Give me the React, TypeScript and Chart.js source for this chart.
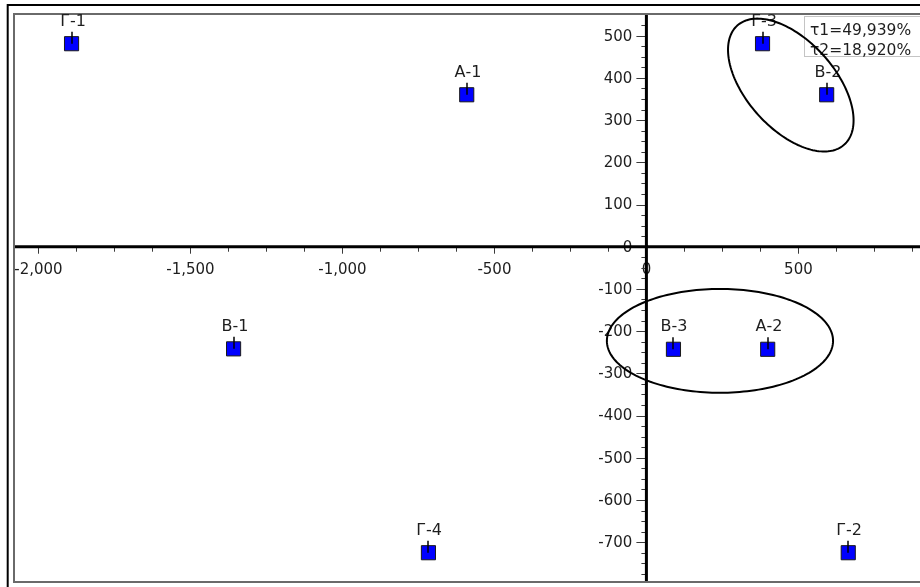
import React, { useEffect, useRef } from "react";
import { Chart, registerables } from "chart.js";

Chart.register(...registerables);

// ---- data ----
const pointLabels = ["Г-1", "А-1", "Г-3", "В-2", "В-1", "В-3", "А-2", "Г-4", "Г-2"];
const xValues = [-1891, -591, 382, 593, -1358, 89, 399, -717, 664];
const yValues = [481, 360, 481, 360, -242, -243, -243, -725, -725];

const xTickValues = [-2000, -1500, -1000, -500, 0, 500];
const xTickLabels = ["-2,000", "-1,500", "-1,000", "-500", "0", "500"];
const yTickValues = [500, 400, 300, 200, 100, 0, -100, -200, -300, -400, -500, -600, -700];
const yTickLabels = ["500", "400", "300", "200", "100", "0", "-100", "-200", "-300", "-400", "-500", "-600", "-700"];
const xMinorStep = 125;
const yMinorStep = 25;
const xRange = [-2077, 900];
const yRange = [-792, 549];

const legendLines = ["τ1=49,939%", "τ2=18,920%"];

// ellipses in data units: centre and two semi-axis vectors
const ellipseCentersX = [475, 242];
const ellipseCentersY = [383, -223];
const ellipseAxisU = [[176, -141], [372, 0]];
const ellipseAxisV = [[-108, -70], [0, 123]];

const FONT = "'DejaVu Sans', 'Liberation Sans', Arial, sans-serif";
const TEXT = "#1e1e1e";

const decorPlugin = {
  id: "decor",
  beforeDraw(chart: any) {
    const ctx = chart.ctx as CanvasRenderingContext2D;
    const W = chart.width;
    const H = chart.height;
    const ca = chart.chartArea;
    ctx.save();
    ctx.fillStyle = "#ffffff";
    ctx.fillRect(0, 0, W, H);
    // outer black frame (left + top)
    ctx.strokeStyle = "#000";
    ctx.lineWidth = 2;
    ctx.beginPath();
    ctx.moveTo(W, 5);
    ctx.lineTo(7.7, 5);
    ctx.lineTo(7.7, H);
    ctx.stroke();
    // inner grey frame
    ctx.strokeStyle = "#6a6a6a";
    ctx.lineWidth = 2;
    ctx.beginPath();
    ctx.moveTo(W, ca.top - 1);
    ctx.lineTo(ca.left - 1, ca.top - 1);
    ctx.lineTo(ca.left - 1, ca.bottom + 1);
    ctx.lineTo(W, ca.bottom + 1);
    ctx.stroke();
    ctx.restore();
  },
  beforeDatasetsDraw(chart: any) {
    const ctx = chart.ctx as CanvasRenderingContext2D;
    const xs = chart.scales.x;
    const ys = chart.scales.y;
    const ca = chart.chartArea;
    const x0 = xs.getPixelForValue(0);
    const y0 = ys.getPixelForValue(0);
    ctx.save();
    // tick labels
    ctx.fillStyle = TEXT;
    ctx.font = `15px ${FONT}`;
    ctx.textAlign = "center";
    ctx.textBaseline = "alphabetic";
    xTickValues.forEach((v, i) => {
      ctx.fillText(xTickLabels[i], xs.getPixelForValue(v), y0 + 27);
    });
    ctx.textAlign = "right";
    ctx.textBaseline = "middle";
    yTickValues.forEach((v, i) => {
      ctx.fillText(yTickLabels[i], x0 - 14, ys.getPixelForValue(v) + 1);
    });
    // minor + major ticks
    ctx.strokeStyle = "#3a3a3a";
    ctx.lineWidth = 1;
    ctx.beginPath();
    for (let v = Math.ceil(xRange[0] / xMinorStep) * xMinorStep; v <= xRange[1]; v += xMinorStep) {
      const px = Math.round(xs.getPixelForValue(v)) + 0.5;
      const major = v % 500 === 0;
      ctx.moveTo(px, y0);
      ctx.lineTo(px, y0 + (major ? 7 : 5));
    }
    for (let v = Math.ceil(yRange[0] / yMinorStep) * yMinorStep; v <= yRange[1]; v += yMinorStep) {
      const py = Math.round(ys.getPixelForValue(v)) + 0.5;
      const major = v % 100 === 0;
      ctx.moveTo(x0, py);
      ctx.lineTo(x0 - (major ? 10 : 5), py);
    }
    ctx.stroke();
    // axis lines
    ctx.strokeStyle = "#000";
    ctx.lineWidth = 3;
    ctx.beginPath();
    ctx.moveTo(ca.left, y0);
    ctx.lineTo(ca.right, y0);
    ctx.moveTo(x0, ca.top);
    ctx.lineTo(x0, ca.bottom);
    ctx.stroke();
    // legend box
    ctx.fillStyle = "#fff";
    ctx.fillRect(804.5, 16.5, chart.width, 40);
    ctx.strokeStyle = "#c4c4c4";
    ctx.lineWidth = 1;
    ctx.strokeRect(804.5, 16.5, chart.width, 40);
    ctx.fillStyle = TEXT;
    ctx.font = `15.5px ${FONT}`;
    ctx.textAlign = "left";
    ctx.textBaseline = "alphabetic";
    legendLines.forEach((t, i) => ctx.fillText(t, 810, 35 + i * 20));
    ctx.restore();
  },
  afterDatasetsDraw(chart: any) {
    const ctx = chart.ctx as CanvasRenderingContext2D;
    const xs = chart.scales.x;
    const ys = chart.scales.y;
    ctx.save();
    // sticks + labels
    ctx.strokeStyle = "#000";
    ctx.lineWidth = 1.5;
    ctx.fillStyle = TEXT;
    ctx.font = `16px ${FONT}`;
    ctx.textAlign = "center";
    ctx.textBaseline = "alphabetic";
    xValues.forEach((xv, i) => {
      const px = Math.round(xs.getPixelForValue(xv));
      const py = ys.getPixelForValue(yValues[i]);
      ctx.beginPath();
      ctx.moveTo(px, py);
      ctx.lineTo(px, py - 12);
      ctx.stroke();
      ctx.fillText(pointLabels[i], px + 1, py - 18);
    });
    // ellipses
    ctx.lineWidth = 2;
    ellipseCentersX.forEach((cx, k) => {
      const cy = ellipseCentersY[k];
      const [ux, uy] = ellipseAxisU[k];
      const [vx, vy] = ellipseAxisV[k];
      ctx.beginPath();
      const n = 180;
      for (let j = 0; j <= n; j++) {
        const t = (j / n) * Math.PI * 2;
        const dx = cx + ux * Math.cos(t) + vx * Math.sin(t);
        const dy = cy + uy * Math.cos(t) + vy * Math.sin(t);
        const px = xs.getPixelForValue(dx);
        const py = ys.getPixelForValue(dy);
        if (j === 0) ctx.moveTo(px, py);
        else ctx.lineTo(px, py);
      }
      ctx.closePath();
      ctx.stroke();
    });
    ctx.restore();
  },
};

export default function App() {
  const canvasRef = useRef<HTMLCanvasElement | null>(null);

  useEffect(() => {
    const canvas = canvasRef.current;
    if (!canvas) return;
    const chart = new Chart(canvas, {
      type: "scatter",
      data: {
        datasets: [
          {
            data: xValues.map((x, i) => ({ x, y: yValues[i] })),
            pointStyle: "rect",
            pointRadius: 10,
            pointHoverRadius: 10,
            backgroundColor: "#0000ff",
            borderColor: "#1a1a1a",
            borderWidth: 1,
            clip: false,
          },
        ],
      },
      options: {
        animation: false,
        responsive: false,
        devicePixelRatio: 1,
        events: [],
        layout: { autoPadding: false, padding: { left: 15, top: 15, right: 0, bottom: 6 } },
        plugins: {
          legend: { display: false },
          tooltip: { enabled: false },
        },
        scales: {
          x: { type: "linear", min: xRange[0], max: xRange[1], display: false },
          y: { type: "linear", min: yRange[0], max: yRange[1], display: false },
        },
      },
      plugins: [decorPlugin],
    });
    return () => chart.destroy();
  }, []);

  return (
    <div style={{ position: "fixed", left: 0, top: 0, width: 920, height: 587, background: "#fff" }}>
      <canvas ref={canvasRef} width={920} height={587} style={{ display: "block", width: 920, height: 587 }} />
    </div>
  );
}
